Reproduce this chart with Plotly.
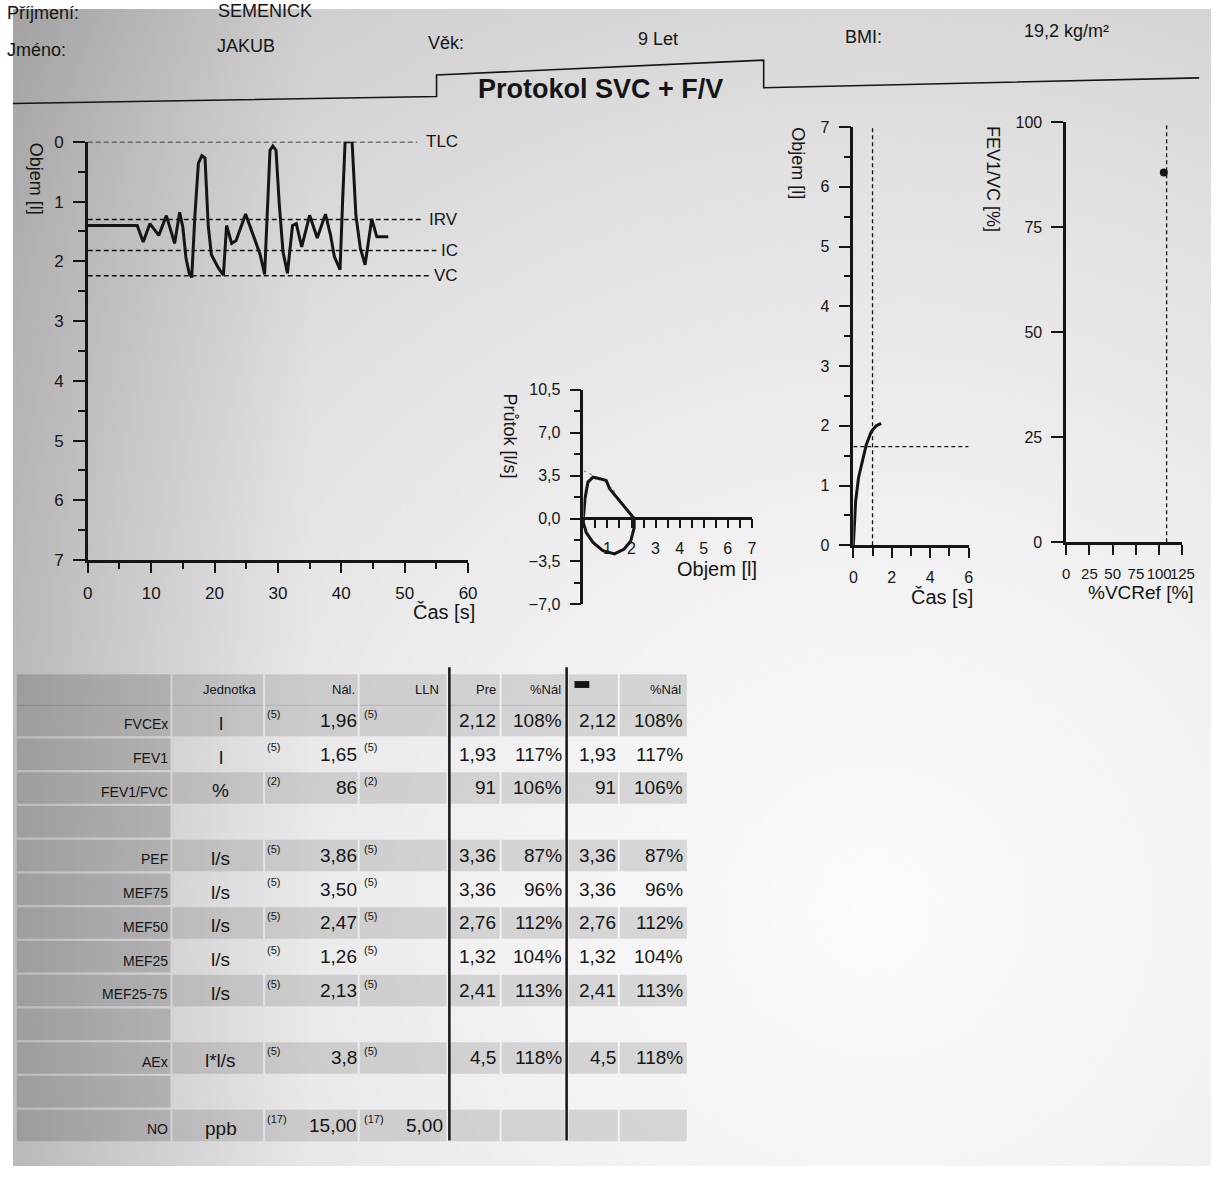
import base64
import plotly.graph_objects as go

W, H = 1224, 1186
FONT = "Liberation Sans, Arial, sans-serif"
INK = "#151515"

# ---------------- data ----------------
# SVC volume-time trace (time s, volume l; axis reversed: 0 = TLC)
svc_time = [0, 7.8, 8.75, 9.8, 11.2, 12.4, 13.7, 14.5, 15.0, 15.5, 16.0, 16.4, 16.9, 17.45,
            18.0, 18.5, 19.0, 19.5, 20.6, 21.4, 21.9, 22.7, 23.4, 24.9, 26.3, 27.2, 27.9,
            28.3, 28.75, 29.2, 29.7, 30.2, 30.8, 31.5, 32.3, 32.9, 33.75, 35.0, 36.2, 37.5,
            38.3, 38.9, 39.8, 40.2, 40.6, 41.7, 42.0, 42.3, 43.0, 43.75, 44.8, 45.6, 47.4]
svc_vol = [1.40, 1.40, 1.675, 1.37, 1.565, 1.235, 1.70, 1.18, 1.43, 1.95, 2.2, 2.27, 1.24, 0.36,
           0.23, 0.27, 1.40, 1.89, 2.11, 2.23, 1.40, 1.70, 1.65, 1.21, 1.62, 1.89, 2.22,
           1.24, 0.14, 0.07, 0.14, 1.02, 1.84, 2.2, 1.40, 1.37, 1.76, 1.23, 1.61, 1.21,
           1.56, 1.92, 2.14, 1.0, 0.0, 0.0, 0.6, 1.23, 1.78, 2.06, 1.29, 1.59, 1.59]
ref_names = ["TLC", "IRV", "IC", "VC"]
ref_levels = [0.0, 1.30, 1.82, 2.24]
ref_ends = [52, 53, 55, 54]

# Flow-volume loop
fv_vol = [0, 0.02, 0.07, 0.19, 0.4, 0.68, 0.95, 1.09, 1.43, 1.77, 2.11, 2.11, 1.97, 1.7,
          1.29, 0.81, 0.4, 0.12, 0.0, 0.0]
fv_flow = [0, 0.8, 1.65, 2.97, 3.37, 3.25, 3.1, 2.43, 1.63, 0.83, 0.0, -0.75, -1.82, -2.49,
           -2.89, -2.62, -1.95, -1.15, -0.35, 0]
fv_pred_vol = [0.02, 0.3, 0.9, 1.3]
fv_pred_flow = [3.9, 3.6, 3.0, 2.2]

# Forced expiration volume-time
fev_time = [0, 0.03, 0.07, 0.12, 0.27, 0.45, 0.67, 0.93, 1.19, 1.45]
fev_vol = [0, 0.15, 0.36, 0.74, 1.13, 1.4, 1.68, 1.9, 2.0, 2.04]
fev1_time = 1.0
fev1_pred = 1.65

# FEV1/VC vs %VCRef
vcref_line = 108
point_vcref = [105]
point_fev1vc = [88]

# Table
row_labels = ["FVCEx", "FEV1", "FEV1/FVC", "", "PEF", "MEF75", "MEF50", "MEF25", "MEF25-75", "", "AEx", "", "NO"]
row_units = ["l", "l", "%", "", "l/s", "l/s", "l/s", "l/s", "l/s", "", "l*l/s", "", "ppb"]
row_src = ["(5)", "(5)", "(2)", "", "(5)", "(5)", "(5)", "(5)", "(5)", "", "(5)", "", "(17)"]
row_pred = ["1,96", "1,65", "86", "", "3,86", "3,50", "2,47", "1,26", "2,13", "", "3,8", "", "15,00"]
row_lln = ["", "", "", "", "", "", "", "", "", "", "", "", "5,00"]
row_pre = ["2,12", "1,93", "91", "", "3,36", "3,36", "2,76", "1,32", "2,41", "", "4,5", "", ""]
row_pre_pct = ["108%", "117%", "106%", "", "87%", "96%", "112%", "104%", "113%", "", "118%", "", ""]
row_post = ["2,12", "1,93", "91", "", "3,36", "3,36", "2,76", "1,32", "2,41", "", "4,5", "", ""]
row_post_pct = ["108%", "117%", "106%", "", "87%", "96%", "112%", "104%", "113%", "", "118%", "", ""]
header_cols = ["Jednotka", "Nál.", "LLN", "Pre", "%Nál", "%Nál"]


def px(x):
    return x / W


def py(y):
    return 1 - y / H


fig = go.Figure()

# ---------------- traces ----------------
line_style = dict(color=INK, width=3)
dash_style = dict(color=INK, width=1.5, dash="5px,3px")
fine_dash = dict(color=INK, width=1.3, dash="4px,3px")

fig.add_trace(go.Scatter(x=svc_time, y=svc_vol, mode="lines", line=line_style, xaxis="x", yaxis="y"))
for name, lvl, end in zip(ref_names, ref_levels, ref_ends):
    fig.add_trace(go.Scatter(x=[0, end], y=[lvl, lvl], mode="lines", line=dash_style, xaxis="x", yaxis="y"))

fig.add_trace(go.Scatter(x=fv_pred_vol, y=fv_pred_flow, mode="lines",
                         line=dict(color="#888888", width=1.2, dash="dot"), xaxis="x2", yaxis="y2"))
fig.add_trace(go.Scatter(x=fv_vol, y=fv_flow, mode="lines", line=line_style, xaxis="x2", yaxis="y2"))

fig.add_trace(go.Scatter(x=[fev1_time, fev1_time], y=[0, 7], mode="lines", line=fine_dash,
                         xaxis="x3", yaxis="y3"))
fig.add_trace(go.Scatter(x=[0, 6], y=[fev1_pred, fev1_pred], mode="lines", line=fine_dash,
                         xaxis="x3", yaxis="y3"))
fig.add_trace(go.Scatter(x=fev_time, y=fev_vol, mode="lines", line=line_style, xaxis="x3", yaxis="y3"))

fig.add_trace(go.Scatter(x=[vcref_line, vcref_line], y=[0, 100], mode="lines",
                         line=fine_dash, xaxis="x4", yaxis="y4"))
fig.add_trace(go.Scatter(x=point_vcref, y=point_fev1vc, mode="markers",
                         marker=dict(color=INK, size=8), xaxis="x4", yaxis="y4"))


# ---------------- axes ----------------
def ax(**kw):
    base = dict(showline=True, linecolor=INK, linewidth=2.5, ticks="outside", tickcolor=INK,
                tickwidth=2, showgrid=False, zeroline=False, fixedrange=True, tickangle=0,
                tickfont=dict(family=FONT, size=16, color=INK), ticklabelstandoff=6)
    base.update(kw)
    return base


def minor(dtick, length=6, tick0=0):
    return dict(ticks="outside", dtick=dtick, tick0=tick0, ticklen=length, tickwidth=2, tickcolor=INK)


layout_axes = dict(
    xaxis=ax(domain=[px(84), px(470)], range=[0, 60], tick0=0, dtick=10, ticklen=10,
             minor=minor(5), anchor="y", tickfont=dict(family=FONT, size=17, color=INK)),
    yaxis=ax(domain=[py(560), py(135)], range=[7, 0], tick0=0, dtick=1, ticklen=12,
             minor=minor(0.5, 7), anchor="x", tickfont=dict(family=FONT, size=17, color=INK)),
    xaxis2=ax(domain=[px(587), px(758)], range=[0, 7], tickvals=[1, 2, 3, 4, 5, 6, 7], ticklen=9,
              minor=minor(0.5, 9), anchor="free", position=py(517)),
    yaxis2=ax(domain=[py(605), py(387)], range=[-7, 10.5], tickvals=[-7, -3.5, 0, 3.5, 7, 10.5],
              tickformat=".1f", ticklen=11, minor=minor(1.75, 7, -7), anchor="x2"),
    xaxis3=ax(domain=[px(861), px(978)], range=[0, 6], tick0=0, dtick=2, ticklen=10,
              minor=minor(1, 8), anchor="y3"),
    yaxis3=ax(domain=[py(545), py(120)], range=[0, 7], tick0=0, dtick=1, ticklen=12,
              minor=minor(0.5, 7), anchor="x3"),
    xaxis4=ax(domain=[px(1077), px(1195)], range=[0, 125], tick0=0, dtick=25, ticklen=10,
              anchor="y4", tickfont=dict(family=FONT, size=15, color=INK)),
    yaxis4=ax(domain=[py(542), py(115)], range=[0, 100], tick0=0, dtick=25, ticklen=12,
              anchor="x4"),
)

# ---------------- annotations ----------------
ann = []


def text(x, y, s, size=18, xanchor="left", yanchor="middle", bold=False, angle=0, color=INK):
    ann.append(dict(x=px(x), y=py(y), xref="paper", yref="paper", text=("<b>%s</b>" % s) if bold else s,
                    showarrow=False, xanchor=xanchor, yanchor=yanchor, textangle=angle,
                    font=dict(family=FONT, size=size, color=color)))


# header
text(0, 4, "Příjmení:", 18)
text(214, 2, "SEMENICK", 18)
text(0, 42, "Jméno:", 18)
text(213, 38, "JAKUB", 18)
text(427, 35, "Věk:", 18)
text(640, 30, "9 Let", 18)
text(850, 28, "BMI:", 18)
text(1032, 22, "19,2 kg/m²", 18)
text(604, 81, "Protokol SVC + F/V", 27, xanchor="center", bold=True)

# axis titles
text(31, 172, "Objem [l]", 18, xanchor="center", angle=90)
text(446, 613, "Čas [s]", 20, xanchor="center")
text(512, 434, "Průtok [l/s]", 18, xanchor="center", angle=90)
text(723, 569, "Objem [l]", 20, xanchor="center")
text(804, 157, "Objem [l]", 18, xanchor="center", angle=90)
text(951, 598, "Čas [s]", 20, xanchor="center")
text(1003, 173, "FEV1/VC [%]", 18, xanchor="center", angle=90)
text(1153, 593, "%VCRef [%]", 19, xanchor="center")

# reference-level labels in SVC chart
for name, lvl in zip(ref_names, ref_levels):
    ann.append(dict(x=58.8, y=lvl, xref="x", yref="y", text=name, showarrow=False, xanchor="right",
                    yanchor="middle", font=dict(family=FONT, size=17, color=INK)))

# table
shapes = []


def rect(x0, y0, x1, y1, fill):
    shapes.append(dict(type="rect", xref="paper", yref="paper", x0=px(x0), x1=px(x1), y0=py(y1), y1=py(y0),
                       fillcolor=fill, line=dict(width=0), layer="below"))


cols = [(12, 168), (170, 262), (264, 358), (360, 448), (452, 502), (504, 568), (572, 622), (624, 692)]
HEAD_Y = 692
ROW0 = 723
STEP = 34.3
SHADE = "rgba(40,40,40,0.15)"
SHADE0 = "rgba(40,40,40,0.20)"

for ci, (c0, c1) in enumerate(cols):
    rect(c0, HEAD_Y - 16, c1, HEAD_Y + 16, SHADE0 if ci == 0 else SHADE)

for i in range(len(row_labels)):
    yc = ROW0 + STEP * i
    rect(cols[0][0], yc - 16, cols[0][1], yc + 16, SHADE0)
    if i % 2 == 0:
        for (c0, c1) in cols[1:]:
            rect(c0, yc - 16, c1, yc + 16, SHADE)
    text(167, yc + 4, row_labels[i], 14, xanchor="right")
    text(219, yc + 3, row_units[i], 19, xanchor="center")
    text(264, yc - 7, row_src[i], 11)
    text(359, yc, row_pred[i], 19, xanchor="right")
    text(362, yc - 7, row_src[i], 11)
    text(447, yc, row_lln[i], 19, xanchor="right")
    text(500, yc, row_pre[i], 19, xanchor="right")
    text(567, yc, row_pre_pct[i], 19, xanchor="right")
    text(622, yc, row_post[i], 19, xanchor="right")
    text(690, yc, row_post_pct[i], 19, xanchor="right")

text(228, HEAD_Y, header_cols[0], 13, xanchor="center")
text(357, HEAD_Y, header_cols[1], 13, xanchor="right")
text(442, HEAD_Y, header_cols[2], 13, xanchor="right")
text(500, HEAD_Y, header_cols[3], 13, xanchor="right")
text(566, HEAD_Y, header_cols[4], 13, xanchor="right")
text(688, HEAD_Y, header_cols[5], 13, xanchor="right")

# header marker and table dividers
shapes.append(dict(type="rect", xref="paper", yref="paper", x0=px(578), x1=px(593), y0=py(690), y1=py(683),
                   fillcolor=INK, line=dict(width=0)))
for xl in (451, 570):
    shapes.append(dict(type="line", xref="paper", yref="paper", x0=px(xl), x1=px(xl), y0=py(669), y1=py(1150),
                       line=dict(color=INK, width=2.5)))

# title tab outline
tab = [(8, 96), (438, 89), (438, 67), (770, 52), (770, 80), (1212, 70)]
path = "M " + " L ".join("%.5f,%.5f" % (px(x), py(y)) for x, y in tab)
shapes.append(dict(type="path", xref="paper", yref="paper", path=path, line=dict(color=INK, width=1.6)))

# paper background (photographed sheet, vignetted)
svg = ('<svg xmlns="http://www.w3.org/2000/svg" width="1216" height="1176" viewBox="0 0 1216 1176" '
       'preserveAspectRatio="none"><defs>'
       '<radialGradient id="g" cx="0.72" cy="0.78" r="1.05">'
       '<stop offset="0" stop-color="#fbfbfb"/><stop offset="0.3" stop-color="#f2f2f2"/>'
       '<stop offset="0.6" stop-color="#e2e2e2"/><stop offset="0.85" stop-color="#d0d0d0"/>'
       '<stop offset="1" stop-color="#c0c0c0"/></radialGradient>'
       '<linearGradient id="l" x1="0" y1="0" x2="1" y2="0">'
       '<stop offset="0" stop-color="#000" stop-opacity="0.15"/>'
       '<stop offset="0.25" stop-color="#000" stop-opacity="0.0"/></linearGradient></defs>'
       '<rect width="1216" height="1176" fill="url(#g)"/>'
       '<rect width="1216" height="1176" fill="url(#l)"/></svg>')
src = "data:image/svg+xml;base64," + base64.b64encode(svg.encode()).decode()

fig.update_layout(
    width=W, height=H, margin=dict(l=0, r=0, t=0, b=0, pad=0),
    paper_bgcolor="white", plot_bgcolor="rgba(0,0,0,0)",
    showlegend=False, separators=",.",
    font=dict(family=FONT, color=INK),
    annotations=ann, shapes=shapes,
    images=[dict(source=src, xref="paper", yref="paper", x=px(8), y=1, sizex=px(1216), sizey=1176 / H,
                 xanchor="left", yanchor="top", sizing="stretch", layer="below")],
    **layout_axes,
)

POST = ("document.documentElement.style.margin='0';document.documentElement.style.padding='0';"
        "document.body.style.margin='0';document.body.style.padding='0';document.body.style.overflow='hidden';"
        "var d=document.getElementsByClassName('plotly-graph-div')[0];"
        "d.style.position='absolute';d.style.left='0px';d.style.top='0px';")
fig.write_html("out.html", config={"displayModeBar": False}, post_script=POST)
